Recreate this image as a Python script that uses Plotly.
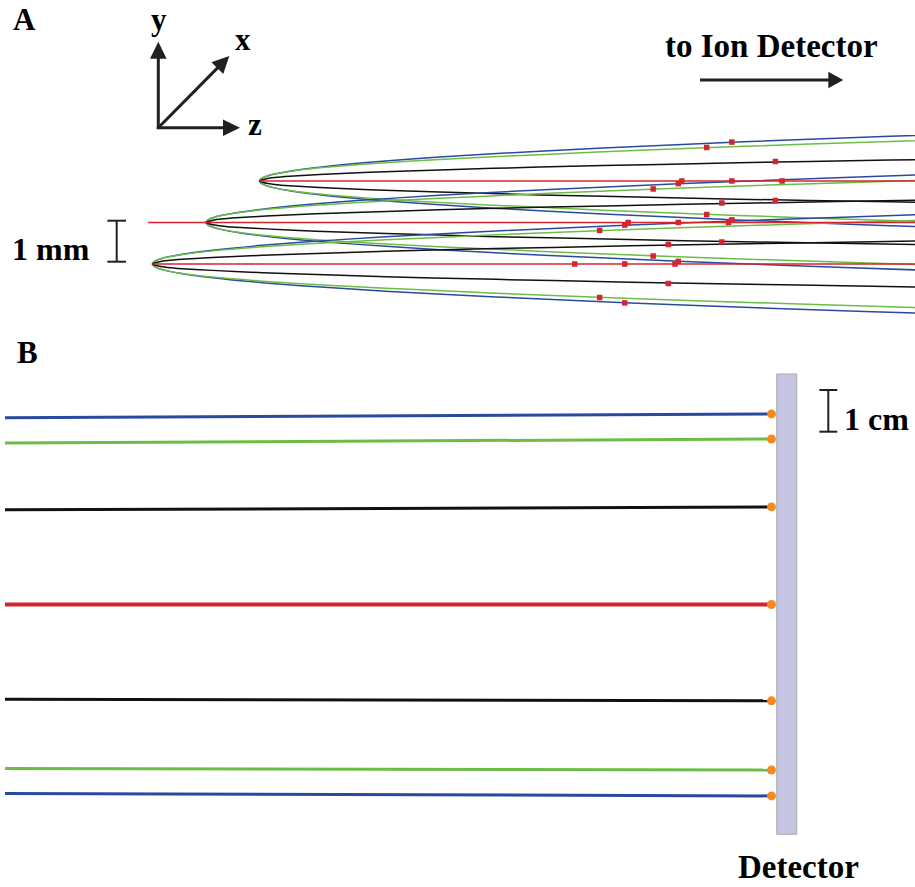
import math
import plotly.graph_objects as go

W, H = 915, 887

BLUE = "#2a4a9f"
GREEN = "#6cbd45"
BLACK = "#111111"
RED = "#d3262f"
ORANGE = "#f48a1f"
INK = "#231f20"
FONT = "Liberation Serif, Times New Roman, serif"

# ---------------- Panel A: near the ion source (mm) ----------------
# emission points of the three ion packets
SOURCE_Z = [1.29, 0.0, -1.29]
SOURCE_Y = [1.0, 0.0, -1.0]
RED_START_Z = [1.29, -1.40, -1.29]

# transverse distance of each trajectory arm vs. distance downstream of its source
ARM_D = [0, 0.024, 0.072, 0.169, 0.361, 0.723, 1.446, 2.651, 4.337, 6.747,
         9.639, 13.253, 17.349, 19.277]
ARM_BLUE = [0, 0.043, 0.074, 0.113, 0.166, 0.235, 0.332, 0.450, 0.575, 0.718,
            0.858, 1.006, 1.151, 1.213]
ARM_GREEN = [0, 0.043, 0.074, 0.113, 0.166, 0.230, 0.316, 0.414, 0.518, 0.635,
             0.759, 0.890, 1.019, 1.074]
ARM_BLACK = [0, 0.011, 0.029, 0.055, 0.082, 0.113, 0.154, 0.210, 0.267, 0.335,
             0.400, 0.470, 0.537, 0.566]

# time-step markers, relative to the source of each packet (dz, |dy|)
MARK_BLUE = (11.38, 0.937)
MARK_GREEN = (10.775, 0.808)
MARK_BLACK = (12.43, 0.470)
MARK_RED_DZ = [10.175, 11.38, 12.59]

# ---------------- Panel B: flight to the detector (cm) ----------------
B_Z_START = 0.12
B_Z_END = 18.50
B_Y_START = [4.48, 3.87, 2.27, 0.0, -2.27, -3.93, -4.53]
B_Y_END = [4.57, 3.97, 2.34, 0.0, -2.31, -3.97, -4.59]
B_COLORS = [BLUE, GREEN, BLACK, RED, BLACK, GREEN, BLUE]
B_WIDTHS = [3, 3, 3, 4, 3, 3, 3]
DETECTOR_Z = (18.626, 19.106)
DETECTOR_Y = (-5.511, 5.528)

fig = go.Figure()

# panel A trajectories
for zs, ys in zip(SOURCE_Z, SOURCE_Y):
    for arm, col in ((ARM_BLUE, BLUE), (ARM_GREEN, GREEN), (ARM_BLACK, BLACK)):
        zz = [zs + d for d in ARM_D[::-1]] + [zs + d for d in ARM_D[1:]]
        yy = [ys + a for a in arm[::-1]] + [ys - a for a in arm[1:]]
        fig.add_trace(go.Scatter(x=zz, y=yy, mode="lines",
                                 line=dict(color=col, width=1.5, shape="spline", smoothing=0.8),
                                 xaxis="x", yaxis="y", hoverinfo="skip"))
for z0, zs, ys in zip(RED_START_Z, SOURCE_Z, SOURCE_Y):
    fig.add_trace(go.Scatter(x=[z0, zs + ARM_D[-1]], y=[ys, ys], mode="lines",
                             line=dict(color=RED, width=1.5),
                             xaxis="x", yaxis="y", hoverinfo="skip"))

mz, my = [], []
for zs, ys in zip(SOURCE_Z, SOURCE_Y):
    for dz, dy in (MARK_BLUE, MARK_GREEN, MARK_BLACK):
        mz += [zs + dz, zs + dz]
        my += [ys + dy, ys - dy]
    for dz in MARK_RED_DZ:
        mz.append(zs + dz)
        my.append(ys)
fig.add_trace(go.Scatter(x=mz, y=my, mode="markers",
                         marker=dict(symbol="square", size=5.5, color=RED, line=dict(width=0)),
                         xaxis="x", yaxis="y", hoverinfo="skip"))

# panel B trajectories
for y0, y1, col, w in zip(B_Y_START, B_Y_END, B_COLORS, B_WIDTHS):
    fig.add_trace(go.Scatter(x=[B_Z_START, B_Z_END], y=[y0, y1], mode="lines",
                             line=dict(color=col, width=w),
                             xaxis="x2", yaxis="y2", hoverinfo="skip"))
fig.add_trace(go.Scatter(x=[B_Z_END] * len(B_Y_END), y=B_Y_END, mode="markers",
                         marker=dict(size=9, color=ORANGE, line=dict(width=0)),
                         xaxis="x2", yaxis="y2", hoverinfo="skip"))


def px(x):
    return x / W


def py(y):
    return 1 - y / H


shapes = []


def arrow(x0, y0, x1, y1, head_len=17, head_half=8.3, width=3):
    dx, dy = x1 - x0, y1 - y0
    n = math.hypot(dx, dy)
    ux, uy = dx / n, dy / n
    bx, by = x1 - ux * head_len, y1 - uy * head_len
    shapes.append(dict(type="line", xref="paper", yref="paper",
                       x0=px(x0), y0=py(y0), x1=px(bx + ux), y1=py(by + uy),
                       line=dict(color=INK, width=width)))
    lx, ly = bx - uy * head_half, by + ux * head_half
    rx, ry = bx + uy * head_half, by - ux * head_half
    path = (f"M {px(x1)} {py(y1)} L {px(lx)} {py(ly)} "
            f"L {px(rx)} {py(ry)} Z")
    shapes.append(dict(type="path", xref="paper", yref="paper", path=path,
                       fillcolor=INK, line=dict(width=0)))


# coordinate triad
arrow(158.3, 129, 158.3, 41.7)
arrow(156.8, 127.7, 240, 127.7)
arrow(158.3, 127.7, 229.3, 56)
# direction of flight
arrow(700, 80, 843.3, 80, head_len=15, head_half=8.3, width=3)

# scale bar, panel A (1 mm)
SB_A_Z, SB_A_Y = -2.152, (0.043, -0.945)
shapes.append(dict(type="line", xref="x", yref="y", x0=SB_A_Z, x1=SB_A_Z,
                   y0=SB_A_Y[0], y1=SB_A_Y[1], line=dict(color=INK, width=2)))
for yb in SB_A_Y:
    shapes.append(dict(type="line", xref="x", yref="y", x0=SB_A_Z - 0.225, x1=SB_A_Z + 0.225,
                       y0=yb, y1=yb, line=dict(color=INK, width=2)))

# scale bar, panel B (1 cm)
SB_B_Z, SB_B_Y = 19.863, (5.144, 4.144)
shapes.append(dict(type="line", xref="x2", yref="y2", x0=SB_B_Z, x1=SB_B_Z,
                   y0=SB_B_Y[0], y1=SB_B_Y[1], line=dict(color=INK, width=2)))
for yb in SB_B_Y:
    shapes.append(dict(type="line", xref="x2", yref="y2", x0=SB_B_Z - 0.215, x1=SB_B_Z + 0.215,
                       y0=yb, y1=yb, line=dict(color=INK, width=2)))

# detector plate
shapes.insert(0, dict(type="rect", xref="x2", yref="y2", layer="below",
                      x0=DETECTOR_Z[0], x1=DETECTOR_Z[1], y0=DETECTOR_Y[0], y1=DETECTOR_Y[1],
                      fillcolor="#c6c5e1", line=dict(color="#a9a9b3", width=1)))


def label(text, x, y, size):
    return dict(text=f"<b>{text}</b>", x=px(x), y=py(y), xref="paper", yref="paper",
                xanchor="center", yanchor="middle", showarrow=False,
                font=dict(family=FONT, size=size, color="#000000"))


annotations = [
    label("A", 24, 20, 31),
    label("B", 27, 352, 31),
    label("y", 159.3, 19, 31),
    label("x", 243.3, 40, 31),
    label("z", 255, 124, 31),
    label("to Ion Detector", 771, 46, 33),
    label("1 mm", 51, 249, 32),
    label("1 cm", 876, 419, 32),
    label("Detector", 798, 867, 33),
]

fig.update_layout(
    width=W, height=H,
    margin=dict(l=0, r=0, t=0, b=0),
    paper_bgcolor="white", plot_bgcolor="white",
    showlegend=False,
    xaxis=dict(domain=[0, 1], range=[-4.964, 17.084], visible=False),
    yaxis=dict(domain=[0.63360, 0.85908], range=[-2.470, 2.349], visible=False),
    xaxis2=dict(domain=[0, 1], range=[0, 21.942], visible=False, anchor="y2"),
    yaxis2=dict(domain=[0.03044, 0.60541], range=[-6.127, 6.103], visible=False, anchor="x2"),
    shapes=shapes,
    annotations=annotations,
)

fig.write_html("out.html")
